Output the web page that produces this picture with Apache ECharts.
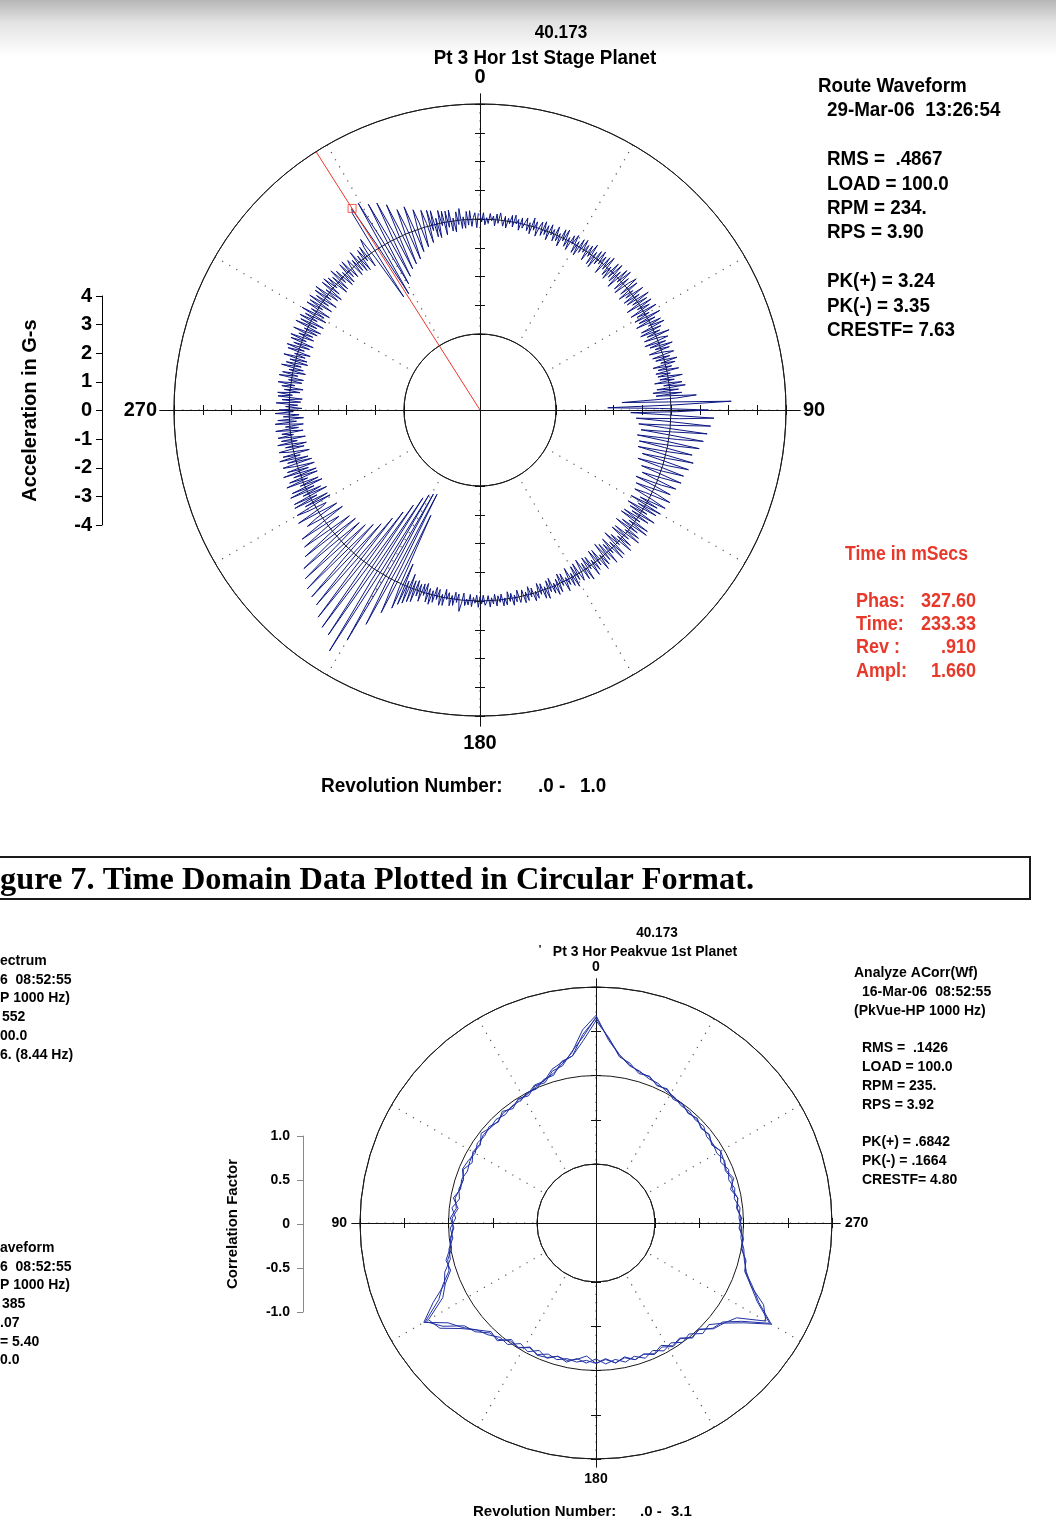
<!DOCTYPE html>
<html>
<head>
<meta charset="utf-8">
<script src="https://cdn.jsdelivr.net/npm/echarts@6.0.0/dist/echarts.min.js"></script>
<style>
html,body{margin:0;padding:0;}
body{width:1056px;height:1528px;background:linear-gradient(to bottom,#b6b6b6 0px,#e2e2e2 22px,#ffffff 56px,#ffffff 100%);}
#chart{width:1056px;height:1528px;}
</style>
</head>
<body>
<div id="chart"></div>
<script>
// ================= DATA =================
// --- Top chart: route waveform, one revolution (0.0 - 1.0), radial value in G-s ---
const topRadiusTicks = [-4, -3, -2, -1, 0, 1, 2, 3, 4];
const topAngleLabels = [0, 90, 180, 270];
const topStepDeg = 0.5; // one sample per half degree of rotation (each row = 5 degrees)
const topAmplitude = [
  0.18,-0.1,0.22,-0.2,0.05,-0.15,0.2,-0.05,0.12,-0.22,      // 0
  0.2,-0.12,0.25,0.02,-0.2,0.15,-0.25,0.1,-0.08,0.22,
  -0.18,0.25,-0.05,0.12,-0.25,0.2,-0.15,0.05,0.24,-0.2,     // 10
  0.1,-0.28,0.3,-0.12,0.2,-0.3,0.05,0.25,-0.22,0.3,
  -0.15,0.2,-0.3,0.28,-0.08,0.15,-0.25,0.3,-0.2,0.1,        // 20
  -0.35,0.3,-0.1,0.35,-0.25,0.12,-0.32,0.25,-0.05,0.33,
  -0.3,0.15,-0.35,0.3,-0.18,0.35,-0.1,0.22,-0.34,0.28,      // 30
  -0.12,0.4,-0.35,0.18,-0.4,0.3,-0.2,0.38,-0.1,0.25,
  -0.4,0.32,-0.15,0.4,-0.3,0.1,-0.38,0.35,-0.22,0.4,        // 40
  -0.3,0.2,-0.45,0.4,-0.12,0.45,-0.35,0.25,-0.42,0.15,
  0.45,-0.3,0.38,-0.45,0.1,-0.25,0.44,-0.4,0.2,-0.35,       // 50
  0.5,-0.2,0.35,-0.5,0.45,-0.15,0.3,-0.48,0.5,-0.3,
  0.15,-0.45,0.5,-0.35,0.25,-0.5,0.4,-0.1,0.48,-0.42,       // 60
  0.3,-0.5,0.2,-0.3,0.5,-0.45,0.12,0.38,-0.5,0.25,
  -0.35,0.45,-0.2,0.3,-0.45,0.1,0.4,-0.38,0.22,-0.3,        // 70
  0.45,-0.15,0.35,-0.45,0.2,-0.3,0.42,-0.4,0.1,-0.35,
  0.5,-0.3,0.2,-0.5,0.45,-0.2,0.55,-0.45,0.3,-0.6,          // 80
  0.4,-0.5,0.9,0.2,-1.7,-0.3,2.1,0.1,-2.2,-0.4,
  1.3,0.2,-1.4,-0.1,1.5,0.3,-1.2,0.0,1.4,0.2,               // 90
  -1.1,-0.2,1.3,0.1,-1.0,0.0,1.2,0.3,-1.1,-0.1,
  1.1,0.2,-1.0,-0.1,0.9,0.1,-1.0,-0.2,1.0,0.1,              // 100
  -0.8,0.0,0.9,0.2,-0.9,-0.1,0.8,0.1,-0.7,0.0,
  0.8,0.1,-0.6,-0.1,0.7,0.2,-0.75,0.0,0.6,-0.1,             // 110
  -0.65,0.2,0.7,-0.2,-0.6,0.1,0.65,-0.3,0.4,-0.6,
  0.6,-0.25,0.5,-0.6,0.2,-0.45,0.58,-0.3,0.4,-0.55,         // 120
  0.15,-0.6,0.55,-0.2,0.6,-0.4,0.3,-0.58,0.45,-0.1,
  0.55,-0.45,0.2,-0.5,0.4,-0.15,0.52,-0.35,0.1,-0.55,       // 130
  0.45,-0.2,0.5,-0.45,0.15,-0.3,0.48,-0.4,0.25,-0.5,
  0.35,-0.1,0.45,-0.4,0.2,-0.45,0.3,-0.15,0.42,-0.35,       // 140
  0.1,-0.4,0.45,-0.25,0.35,-0.45,0.05,0.3,-0.4,0.2,
  -0.35,0.4,-0.15,0.3,-0.4,0.2,-0.1,0.38,-0.3,0.12,         // 150
  -0.35,0.3,-0.2,0.35,-0.1,0.25,-0.33,0.15,-0.28,0.35,
  -0.1,0.3,-0.25,0.12,-0.3,0.22,-0.05,0.28,-0.2,0.1,        // 160
  -0.28,0.2,-0.12,0.25,-0.22,0.05,0.2,-0.25,0.15,-0.1,
  0.25,-0.18,0.1,-0.25,0.2,-0.05,0.22,-0.2,0.08,-0.15,      // 170
  0.2,-0.22,0.12,-0.1,0.22,-0.18,0.05,0.15,-0.2,0.1,
  -0.15,0.22,-0.2,0.08,-0.12,0.2,-0.22,0.15,-0.05,0.18,     // 180
  -0.25,0.12,0.4,-0.2,0.1,-0.25,0.22,-0.12,0.25,-0.2,
  0.05,-0.3,0.28,-0.1,0.3,-0.25,0.12,-0.3,0.25,-0.15,       // 190
  0.35,-0.2,0.3,-0.35,0.1,-0.3,0.35,-0.25,0.2,-0.35,
  0.45,-0.3,0.5,-0.5,0.6,-0.2,0.7,-0.8,0.9,0.1,             // 200
  -2.6,-0.5,1.2,0.2,-3.35,-0.6,1.8,0.1,-3.3,-0.4,
  2.6,0.3,-3.2,-0.2,3.24,0.4,-3.0,-0.3,2.8,0.2,             // 210
  -2.6,-0.1,2.7,0.3,-2.2,-0.2,2.5,0.4,-1.8,0.0,
  2.2,0.5,-1.4,0.1,2.1,0.4,-1.2,0.0,2.0,0.3,                // 220
  -1.0,0.1,1.8,0.3,-0.9,0.0,1.6,0.4,-0.9,-0.1,
  1.3,0.2,-0.8,0.1,1.1,0.3,-0.5,-0.1,1.0,0.1,               // 230
  -0.8,0.0,0.6,0.2,-0.7,-0.1,0.8,-0.2,-0.4,0.3,
  0.7,-0.65,0.3,-0.6,0.65,-0.25,0.6,-0.68,0.2,-0.5,         // 240
  0.62,-0.3,0.5,-0.65,0.15,-0.55,0.6,-0.2,0.45,-0.6,
  0.25,-0.6,0.58,-0.35,0.4,-0.6,0.1,0.5,-0.55,0.3,          // 250
  -0.45,0.55,-0.2,0.4,-0.55,0.15,0.5,-0.4,0.25,-0.5,
  0.5,-0.2,0.35,-0.5,0.45,-0.1,0.3,-0.45,0.5,-0.3,          // 260
  0.15,-0.48,0.5,-0.25,0.4,-0.5,0.2,-0.35,0.48,-0.15,
  0.35,-0.45,0.12,-0.3,0.45,-0.4,0.25,-0.45,0.4,-0.1,       // 270
  0.42,-0.35,0.2,-0.45,0.3,-0.15,0.45,-0.38,0.1,-0.42,
  0.45,-0.2,0.35,-0.45,0.15,-0.35,0.44,-0.25,0.3,-0.45,     // 280
  0.2,-0.4,0.45,-0.3,0.1,-0.45,0.38,-0.2,0.45,-0.35,
  0.25,-0.45,0.4,-0.15,0.45,-0.38,0.2,-0.3,0.45,-0.42,      // 290
  0.1,-0.5,0.48,-0.3,0.35,-0.5,0.45,-0.2,0.3,-0.48,
  0.5,-0.35,0.2,-0.5,0.45,-0.15,0.4,-0.45,0.5,-0.25,        // 300
  0.3,-0.5,0.45,-0.2,0.5,-0.4,0.15,-0.48,0.42,-0.3,
  0.45,-0.1,0.35,-0.45,0.25,-0.4,0.45,-0.2,0.3,-0.42,       // 310
  0.12,-0.4,0.38,-0.25,0.4,-0.35,0.1,0.3,-0.4,0.2,
  -0.3,0.45,-0.4,0.2,-0.45,0.35,-0.15,0.4,-0.45,0.3,        // 320
  0.6,-0.2,-1.9,-0.3,1.5,1.66,0.2,-1.9,-0.2,1.7,
  0.3,-1.6,-0.2,1.5,0.2,-1.4,-0.1,1.4,0.3,-1.2,             // 330
  -0.1,1.2,0.1,-1.1,0.0,0.9,0.2,-1.0,-0.2,0.9,
  0.1,-0.8,0.0,0.7,0.2,-0.7,-0.1,0.6,0.1,-0.6,              // 340
  0.55,-0.2,0.5,-0.45,0.2,-0.5,0.45,-0.1,0.4,-0.45,
  0.38,-0.2,0.4,-0.35,0.1,-0.4,0.3,-0.15,0.4,-0.3,          // 350
  0.1,-0.3,0.28,-0.2,0.3,-0.25,0.05,0.22,-0.3,0.2
];
const cursorPhase = 327.6;   // Phas (deg)
const cursorAmpl = 1.66;     // Ampl (G-s)
const cursorSpan = [0, 1];   // cursor runs from the centre to the rim (fraction of radius)

// --- Bottom chart: autocorrelation, 3.1 revolutions, correlation factor ---
const botRadiusTicks = [-1.0, -0.5, 0, 0.5, 1.0];
const botAngleLabels = [0, 90, 180, 270];
const botStepDeg = 4; // one sample every 4 degrees
const botRev1 = [
  0.66,0.44,0.29,0.15,0.12,0.02,0.03,-0.04,-0.01,-0.07,
  -0.02,-0.08,-0.04,-0.07,-0.05,-0.09,-0.06,-0.04,-0.09,-0.08,
  -0.05,-0.08,-0.02,-0.06,-0.01,-0.01,0.06,0.08,0.20,0.31,
  0.56,0.42,0.22,0.17,0.06,0.05,-0.02,-0.01,-0.07,-0.04,
  -0.09,-0.06,-0.10,-0.08,-0.11,-0.08,-0.12,-0.07,-0.11,-0.06,
  -0.09,-0.04,-0.08,-0.02,-0.05,0.02,0.01,0.11,0.15,0.32,
  0.60,0.36,0.22,0.10,0.08,0.00,0.01,-0.05,-0.02,-0.07,
  -0.04,-0.08,-0.05,-0.09,-0.06,-0.04,-0.09,-0.04,-0.07,-0.02,
  -0.05,0.00,-0.02,0.05,0.03,0.10,0.09,0.18,0.23,0.43
];
const botRev2 = [
  0.62,0.40,0.24,0.19,0.14,0.04,0.04,-0.02,-0.02,-0.05,
  -0.04,-0.07,-0.06,-0.02,-0.09,-0.07,-0.08,-0.10,-0.07,-0.09,
  -0.03,-0.10,-0.04,-0.05,-0.02,0.01,0.08,0.06,0.17,0.26,
  0.52,0.46,0.27,0.14,0.04,0.07,-0.04,0.00,-0.08,-0.03,
  -0.05,-0.10,-0.06,-0.12,-0.08,-0.13,-0.07,-0.11,-0.06,-0.10,
  -0.04,-0.09,-0.03,-0.07,0.00,-0.03,0.07,0.05,0.17,0.25,
  0.55,0.44,0.22,0.12,0.06,0.03,-0.02,-0.02,-0.05,-0.03,
  -0.08,-0.05,-0.09,-0.05,-0.10,-0.04,-0.08,-0.05,-0.06,-0.03,
  -0.04,-0.01,0.00,0.04,0.04,0.09,0.11,0.16,0.25,0.40
];
const botRev3 = [
  0.68,0.52,0.28,0.17,0.09,0.05,0.01,-0.01,-0.04,-0.04,
  -0.07,-0.04,-0.06,-0.05,-0.08,-0.06,-0.11,-0.05,-0.09,-0.07,
  -0.10,-0.03,-0.08,-0.02,-0.04,0.02,0.03,0.13,0.18,0.38,
  0.58,0.35,0.25,0.14,0.09,0.02,0.03,-0.06,-0.02,-0.09,
  -0.04,-0.10,-0.08,-0.11,-0.16,-0.08,-0.13,-0.07,-0.12,-0.06,
  -0.09,-0.05,-0.10,-0.03,-0.06,0.03,0.00,0.12,0.17,0.35,
  0.62,0.38,0.24,0.11,0.07,0.01,0.00,-0.04,-0.03,-0.06,
  -0.04,-0.10,-0.03,-0.08,-0.05,-0.09,-0.07,-0.08,-0.03,-0.05,
  -0.02,-0.03,0.01,0.02,0.06,0.07,0.12,0.15,0.25,0.42
];
const botRev4 = [0.65,0.47,0.24,0.20,0.07,0.06,-0.01,0.00,-0.05];

// ================= LAYOUT =================
const SANS = '"Liberation Sans", Arial, Helvetica, sans-serif';
const SERIF = '"Liberation Serif", "Times New Roman", serif';
const LT = {cx:480, cy:410, r0:76, r1:306, ext:[320,316], tick:5, labelMargin:17, fs:20,
            scale:{x:102, top:296, h:229}};
const LB = {cx:596, cy:1223, r0:59, r1:236, ext:[244,244], tick:5, labelMargin:13, fs:14,
            scale:{x:303, top:1136, h:176}};

function tickPx(L, ticks) {
  const mn = ticks[0], mx = ticks[ticks.length - 1], s = (L.r1 - L.r0) / (mx - mn);
  const out = [];
  ticks.forEach(t => { const p = L.r0 + (t - mn) * s; out.push(p, -p); });
  return out;
}
function mkAngle(idx, clockwise, L, labels) {
  return {
    polarIndex: idx, type: 'value', min: 0, max: 360, interval: 30, startAngle: 90, clockwise: clockwise,
    axisLine: {show: true, lineStyle: {color: '#1a1a1a', width: 1}},
    axisTick: {show: false},
    axisLabel: {show: true, margin: L.labelMargin, color: '#000', fontFamily: SANS, fontWeight: 'bold',
      fontSize: L.fs, formatter: v => (labels.indexOf(v) >= 0 && v !== 360) ? String(v) : ''},
    splitLine: {show: true, lineStyle: {color: '#555', width: 1.2, type: [1.2, 7]}}
  };
}
function mkRadius(idx, ticks) {
  const mn = ticks[0], mx = ticks[ticks.length - 1];
  return {
    polarIndex: idx, type: 'value', min: mn, max: mx, interval: (mx - mn) / 2,
    axisLine: {show: false}, axisTick: {show: false}, axisLabel: {show: false},
    splitLine: {show: true, lineStyle: {color: '#1a1a1a', width: 1}}
  };
}
function crossAxis(gi, L, ticks, dim, pos) {
  const e = dim === 'x' ? L.ext[0] : L.ext[1];
  return {
    gridIndex: gi, type: 'value', min: -e, max: e, position: pos,
    axisLine: {show: true, onZero: true, lineStyle: {color: '#111', width: 1}},
    axisTick: {show: true, customValues: tickPx(L, ticks), length: L.tick, lineStyle: {color: '#111', width: 1}},
    axisLabel: {show: false}, splitLine: {show: false}
  };
}
function scaleAxis(gi, ticks, o) {
  const mn = ticks[0], mx = ticks[ticks.length - 1];
  return {
    gridIndex: gi, type: 'value', min: mn, max: mx, interval: ticks[1] - ticks[0], position: 'left',
    axisLine: {show: true, onZero: false, lineStyle: {color: o.lineColor, width: 1}},
    axisTick: {show: true, length: 6, lineStyle: {color: o.lineColor, width: 1}},
    axisLabel: {show: true, margin: o.margin, color: '#000', fontFamily: SANS, fontWeight: 'bold',
      fontSize: o.fs, showMinLabel: true, showMaxLabel: true, formatter: o.fmt},
    splitLine: {show: false},
    name: o.name, nameLocation: 'middle', nameGap: o.nameGap, nameRotate: 90,
    nameTextStyle: {color: '#000', fontFamily: SANS, fontWeight: 'bold', fontSize: o.nameFs}
  };
}
function hiddenX(gi) {
  return {gridIndex: gi, type: 'value', min: 0, max: 1, show: false, axisLine: {onZero: false}};
}
function T(text, x, y, o) {
  o = o || {};
  const a = o.a || 'left';
  return {type: 'text', x: x, y: y, scaleX: (o.sx == null ? 0.94 : o.sx), silent: true, z: 10,
    style: {text: text, font: 'bold ' + (o.fs || 20) + 'px ' + (o.ff || SANS), fill: o.c || '#000',
      textAlign: a, textVerticalAlign: 'middle', align: a, verticalAlign: 'middle'}};
}

const RED = '#e8382a';
const texts = [
  // top chart
  T('40.173', 561, 33, {fs: 19, a: 'center', sx: 0.9}),
  T('Pt 3 Hor 1st Stage Planet', 545, 58, {a: 'center'}),
  T('Route Waveform', 818, 86),
  T('29-Mar-06  13:26:54', 827, 110),
  T('RMS =  .4867', 827, 159),
  T('LOAD = 100.0', 827, 184),
  T('RPM = 234.', 827, 208),
  T('RPS = 3.90', 827, 232),
  T('PK(+) = 3.24', 827, 281),
  T('PK(-) = 3.35', 827, 306),
  T('CRESTF= 7.63', 827, 330),
  T('Time in mSecs', 845, 554, {c: RED, sx: 0.88}),
  T('Phas:', 856, 601, {c: RED, sx: 0.9}),
  T('Time:', 856, 624, {c: RED, sx: 0.9}),
  T('Rev :', 856, 647, {c: RED, sx: 0.9}),
  T('Ampl:', 856, 671, {c: RED, sx: 0.9}),
  T('327.60', 976, 601, {c: RED, sx: 0.9, a: 'right'}),
  T('233.33', 976, 624, {c: RED, sx: 0.9, a: 'right'}),
  T('.910', 976, 647, {c: RED, sx: 0.9, a: 'right'}),
  T('1.660', 976, 671, {c: RED, sx: 0.9, a: 'right'}),
  T('Revolution Number:', 321, 786, {sx: 0.95}),
  T('.0 -', 538, 786),
  T('1.0', 580, 786),
  // caption
  T('gure 7. Time Domain Data Plotted in Circular Format.', 0, 881, {fs: 32, ff: SERIF, sx: 1.01}),
  // bottom chart
  T('40.173', 657, 933, {fs: 14, a: 'center', sx: 0.97}),
  T("'", 540, 950, {fs: 11, a: 'center', sx: 1}),
  T('Pt 3 Hor Peakvue 1st Planet', 645, 952, {fs: 14, a: 'center', sx: 1}),
  T('Analyze ACorr(Wf)', 854, 973, {fs: 14, sx: 1}),
  T('16-Mar-06  08:52:55', 862, 992, {fs: 14, sx: 1}),
  T('(PkVue-HP 1000 Hz)', 854, 1011, {fs: 14, sx: 1}),
  T('RMS =  .1426', 862, 1048, {fs: 14, sx: 1}),
  T('LOAD = 100.0', 862, 1067, {fs: 14, sx: 1}),
  T('RPM = 235.', 862, 1086, {fs: 14, sx: 1}),
  T('RPS = 3.92', 862, 1105, {fs: 14, sx: 1}),
  T('PK(+) = .6842', 862, 1142, {fs: 14, sx: 1}),
  T('PK(-) = .1664', 862, 1161, {fs: 14, sx: 1}),
  T('CRESTF= 4.80', 862, 1180, {fs: 14, sx: 1}),
  T('ectrum', 0, 961, {fs: 14, sx: 1}),
  T('6  08:52:55', 0, 980, {fs: 14, sx: 1}),
  T('P 1000 Hz)', 0, 998, {fs: 14, sx: 1}),
  T('552', 2, 1017, {fs: 14, sx: 1}),
  T('00.0', 0, 1036, {fs: 14, sx: 1}),
  T('6. (8.44 Hz)', 0, 1055, {fs: 14, sx: 1}),
  T('aveform', 0, 1248, {fs: 14, sx: 1}),
  T('6  08:52:55', 0, 1267, {fs: 14, sx: 1}),
  T('P 1000 Hz)', 0, 1285, {fs: 14, sx: 1}),
  T('385', 2, 1304, {fs: 14, sx: 1}),
  T('.07', 0, 1323, {fs: 14, sx: 1}),
  T('= 5.40', 0, 1342, {fs: 14, sx: 1}),
  T('0.0', 0, 1360, {fs: 14, sx: 1}),
  T('Revolution Number:', 473, 1512, {fs: 15, sx: 1}),
  T('.0 -', 640, 1512, {fs: 15, sx: 1}),
  T('3.1', 671, 1512, {fs: 15, sx: 1})
];

const botAll = botRev1.concat(botRev2, botRev3, botRev4);

const option = {
  animation: false,
  backgroundColor: 'transparent',
  textStyle: {fontFamily: SANS},
  polar: [
    {center: [LT.cx, LT.cy], radius: [LT.r0, LT.r1]},
    {center: [LB.cx, LB.cy], radius: [LB.r0, LB.r1]},
    {center: [LT.cx, LT.cy], radius: [0, LT.r1]}   // cursor overlay: centre to rim
  ],
  angleAxis: [
    mkAngle(0, true, LT, topAngleLabels),
    mkAngle(1, false, LB, botAngleLabels),
    {polarIndex: 2, type: 'value', min: 0, max: 360, startAngle: 90, clockwise: true,
     axisLine: {show: false}, axisTick: {show: false}, axisLabel: {show: false}, splitLine: {show: false}}
  ],
  radiusAxis: [
    mkRadius(0, topRadiusTicks),
    mkRadius(1, botRadiusTicks),
    {polarIndex: 2, type: 'value', min: cursorSpan[0], max: cursorSpan[1],
     axisLine: {show: false}, axisTick: {show: false}, axisLabel: {show: false}, splitLine: {show: false}}
  ],
  grid: [
    {left: LT.cx - LT.ext[0], top: LT.cy - LT.ext[1], width: 2 * LT.ext[0], height: 2 * LT.ext[1], containLabel: false, outerBoundsMode: 'none'},
    {left: LB.cx - LB.ext[0], top: LB.cy - LB.ext[1], width: 2 * LB.ext[0], height: 2 * LB.ext[1], containLabel: false, outerBoundsMode: 'none'},
    {left: LT.scale.x, top: LT.scale.top, width: 20, height: LT.scale.h, containLabel: false, outerBoundsMode: 'none'},
    {left: LB.scale.x, top: LB.scale.top, width: 20, height: LB.scale.h, containLabel: false, outerBoundsMode: 'none'}
  ],
  xAxis: [
    crossAxis(0, LT, topRadiusTicks, 'x', 'bottom'),
    crossAxis(0, LT, topRadiusTicks, 'x', 'top'),
    crossAxis(1, LB, botRadiusTicks, 'x', 'bottom'),
    crossAxis(1, LB, botRadiusTicks, 'x', 'top'),
    hiddenX(2), hiddenX(3)
  ],
  yAxis: [
    crossAxis(0, LT, topRadiusTicks, 'y', 'left'),
    crossAxis(0, LT, topRadiusTicks, 'y', 'right'),
    crossAxis(1, LB, botRadiusTicks, 'y', 'left'),
    crossAxis(1, LB, botRadiusTicks, 'y', 'right'),
    scaleAxis(2, topRadiusTicks, {lineColor: '#000', margin: 10, fs: 20, name: 'Acceleration in G-s', nameGap: 62, nameFs: 20, fmt: v => String(v)}),
    scaleAxis(3, botRadiusTicks, {lineColor: '#888', margin: 13, fs: 14, name: 'Correlation Factor', nameGap: 63, nameFs: 15, fmt: v => (v === 0 ? '0' : v.toFixed(1))})
  ],
  series: [
    {type: 'line', coordinateSystem: 'polar', polarIndex: 0, symbol: 'none', showSymbol: false, clip: false, silent: true, z: 3,
     lineStyle: {color: '#0d1782', width: 1},
     data: topAmplitude.map((v, i) => [v, i * topStepDeg])},
    {type: 'line', coordinateSystem: 'polar', polarIndex: 2, symbol: 'none', clip: false, silent: true, z: 4,
     lineStyle: {color: RED, width: 1},
     data: cursorSpan.map(f => [f, cursorPhase])},
    {type: 'scatter', coordinateSystem: 'polar', polarIndex: 0, symbol: 'rect', symbolSize: 8, silent: true, z: 5,
     itemStyle: {color: 'rgba(255,255,255,0)', borderColor: RED, borderWidth: 1},
     data: [[cursorAmpl, cursorPhase]]},
    {type: 'line', coordinateSystem: 'polar', polarIndex: 1, symbol: 'none', showSymbol: false, clip: false, silent: true, z: 3,
     lineStyle: {color: '#2232a2', width: 1},
     data: botAll.map((v, i) => [v, (i * botStepDeg) % 360])}
  ],
  graphic: {elements: [
    {type: 'rect', silent: true, z: 9, shape: {x: -10, y: 857, width: 1040, height: 42},
     style: {fill: 'none', stroke: '#1a1a1a', lineWidth: 2}}
  ].concat(texts)}
};

const chart = echarts.init(document.getElementById('chart'), null, {renderer: 'canvas', width: 1056, height: 1528});
chart.setOption(option);
</script>
</body>
</html>
